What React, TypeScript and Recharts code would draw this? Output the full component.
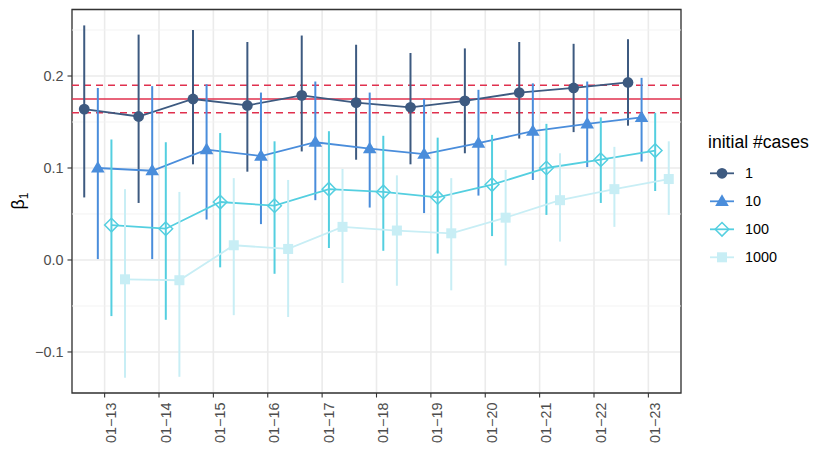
import { ComposedChart, Line, ErrorBar, XAxis, YAxis, CartesianGrid, ReferenceLine, ReferenceArea } from 'recharts';

const dates = ['01−13', '01−14', '01−15', '01−16', '01−17', '01−18', '01−19', '01−20', '01−21', '01−22', '01−23'];
const yTicks = [-0.1, 0, 0.1, 0.2];
const yMinor = [-0.05, 0.05, 0.15, 0.25];

const est1 = [0.164, 0.156, 0.175, 0.168, 0.179, 0.171, 0.166, 0.173, 0.182, 0.187, 0.193];
const lo1 = [0.068, 0.062, 0.104, 0.096, 0.118, 0.109, 0.104, 0.116, 0.132, 0.139, 0.146];
const hi1 = [0.255, 0.245, 0.25, 0.237, 0.244, 0.234, 0.225, 0.23, 0.237, 0.235, 0.24];

const est10 = [0.1, 0.097, 0.12, 0.113, 0.128, 0.121, 0.115, 0.127, 0.14, 0.148, 0.155];
const lo10 = [0.001, 0.001, 0.044, 0.039, 0.065, 0.057, 0.051, 0.07, 0.087, 0.101, 0.107];
const hi10 = [0.187, 0.189, 0.191, 0.182, 0.194, 0.182, 0.175, 0.185, 0.192, 0.194, 0.198];

const est100 = [0.038, 0.034, 0.063, 0.059, 0.077, 0.074, 0.068, 0.082, 0.1, 0.109, 0.119];
const lo100 = [-0.061, -0.065, -0.008, -0.015, 0.013, 0.01, 0.007, 0.026, 0.049, 0.062, 0.075];
const hi100 = [0.131, 0.128, 0.138, 0.129, 0.14, 0.135, 0.133, 0.136, 0.148, 0.155, 0.16];

const est1000 = [-0.021, -0.022, 0.016, 0.012, 0.036, 0.032, 0.029, 0.046, 0.065, 0.077, 0.088];
const lo1000 = [-0.128, -0.127, -0.06, -0.062, -0.025, -0.028, -0.033, -0.006, 0.02, 0.036, 0.049];
const hi1000 = [0.077, 0.074, 0.089, 0.087, 0.099, 0.092, 0.089, 0.098, 0.116, 0.123, 0.129];

const refEst = 0.175;
const refLo = 0.16;
const refHi = 0.19;

const groups = ['1', '10', '100', '1000'];
const colors = ['#3d5a80', '#4a8ddb', '#54cfe0', '#c8eef5'];
const shapes = ['circle', 'triangle', 'diamond', 'square'];
const dodge = [-0.375, -0.125, 0.125, 0.375];

const xDomain = [0.4, 11.6];
const yDomain = [-0.1446, 0.2723];

function build(est: number[], lo: number[], hi: number[], off: number) {
  return est.map((v, i) => ({ x: i + 1 + off, y: v, err: [v - lo[i], hi[i] - v] }));
}

const series = [
  build(est1, lo1, hi1, dodge[0]),
  build(est10, lo10, hi10, dodge[1]),
  build(est100, lo100, hi100, dodge[2]),
  build(est1000, lo1000, hi1000, dodge[3]),
];

function Marker({ cx, cy, shape, color }: any) {
  if (cx == null || cy == null) return null;
  if (shape === 'circle') return <circle cx={cx} cy={cy} r={5.4} fill={color} />;
  if (shape === 'triangle')
    return <polygon points={`${cx},${cy - 7} ${cx + 6.8},${cy + 4.6} ${cx - 6.8},${cy + 4.6}`} fill={color} />;
  if (shape === 'diamond')
    return (
      <polygon
        points={`${cx},${cy - 6.8} ${cx + 6.8},${cy} ${cx},${cy + 6.8} ${cx - 6.8},${cy}`}
        fill="none"
        stroke={color}
        strokeWidth={1.5}
      />
    );
  return <rect x={cx - 5} y={cy - 5} width={10} height={10} fill={color} />;
}

function DateTick({ x, y, payload }: any) {
  return (
    <text transform={`translate(${x + 11.5},${y}) rotate(-90)`} textAnchor="end" fill="#4d4d4d" fontSize={14.4}>
      {dates[payload.value - 1]}
    </text>
  );
}

function fmtY(v: number) {
  if (v === 0) return '0.0';
  return (v < 0 ? '−' : '') + Math.abs(v).toFixed(1);
}

function Overlay() {
  return (
    <svg width={830} height={475} style={{ position: 'absolute', left: 0, top: 0 }}>
      <text transform="translate(24,201) rotate(-90)" textAnchor="middle" fontSize={17.6} fill="#000">
        β<tspan fontSize={12} dy={4}>1</tspan>
      </text>
      <text x={708} y={148} fontSize={17.6} fill="#000">initial #cases</text>
      {groups.map((g, i) => {
        const cy = 173.3 + i * 28;
        return (
          <g key={g}>
            <line x1={710} x2={734} y1={cy} y2={cy} stroke={colors[i]} strokeWidth={1.8} />
            <Marker cx={722} cy={cy} shape={shapes[i]} color={colors[i]} />
            <text x={745} y={cy} dy="0.36em" fontSize={14.4} fill="#000">{g}</text>
          </g>
        );
      })}
    </svg>
  );
}

export default function App() {
  return (
    <div style={{ position: 'absolute', left: 0, top: 0, width: 830, height: 475, background: '#fff', fontFamily: '"Liberation Sans", Arial, sans-serif' }}>
      <ComposedChart width={830} height={475} margin={{ top: 9.5, right: 149, bottom: 0, left: 0 }}>
        <CartesianGrid stroke="#ebebeb" strokeWidth={1.6} />
        {yMinor.map((v) => (
          <ReferenceLine key={v} y={v} stroke="#f2f2f2" strokeWidth={0.9} />
        ))}
        <XAxis
          type="number"
          dataKey="x"
          domain={xDomain}
          ticks={[1, 2, 3, 4, 5, 6, 7, 8, 9, 10, 11]}
          allowDataOverflow
          height={82}
          axisLine={false}
          tickLine={{ stroke: '#333', strokeWidth: 1.1 }}
          tickSize={4.5}
          tickMargin={5}
          tick={<DateTick />}
          interval={0}
        />
        <YAxis
          type="number"
          domain={yDomain}
          ticks={yTicks}
          allowDataOverflow
          width={72}
          axisLine={false}
          tickLine={{ stroke: '#333', strokeWidth: 1.1 }}
          tickSize={4.5}
          tickMargin={4}
          tickFormatter={fmtY}
          tick={{ fill: '#4d4d4d', fontSize: 14.4 }}
        />
        <ReferenceLine y={refHi} stroke="#e0304e" strokeWidth={1.6} strokeDasharray="7 5" />
        <ReferenceLine y={refEst} stroke="#e0304e" strokeWidth={1.6} />
        <ReferenceLine y={refLo} stroke="#e0304e" strokeWidth={1.6} strokeDasharray="7 5" />
        {series.map((d, i) => (
          <Line
            key={groups[i]}
            data={d}
            dataKey="y"
            type="linear"
            stroke={colors[i]}
            strokeWidth={1.8}
            isAnimationActive={false}
            dot={(p: any) => <Marker key={`m${i}-${p.index}`} cx={p.cx} cy={p.cy} shape={shapes[i]} color={colors[i]} />}
            activeDot={false}
          >
            <ErrorBar dataKey="err" direction="y" width={0} stroke={colors[i]} strokeWidth={2} isAnimationActive={false} />
          </Line>
        ))}
        <ReferenceArea x1={xDomain[0]} x2={xDomain[1]} y1={yDomain[0]} y2={yDomain[1]} fill="none" stroke="#333" strokeWidth={1.3} ifOverflow="visible" />
      </ComposedChart>
      <Overlay />
    </div>
  );
}
